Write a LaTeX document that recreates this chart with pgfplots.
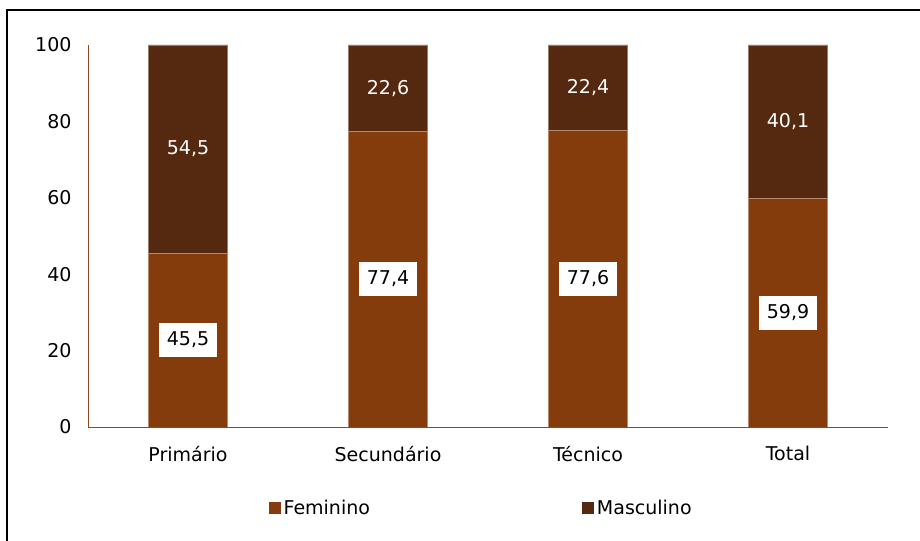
\documentclass[border=0pt]{standalone}
\usepackage{pgfplots}
\pgfplotsset{compat=1.18}
\usepackage{pgfplotstable}
\usepackage{fontspec}
\setmainfont{DejaVu Sans}

\definecolor{fem}{HTML}{843C0C}
\definecolor{masc}{HTML}{552810}
\definecolor{axisbrown}{HTML}{8B4A20}

\pgfplotstableread{
x  fem   masc
0  45.5  54.5
1  77.4  22.6
2  77.6  22.4
3  59.9  40.1
}\dados

\begin{document}
\begin{tikzpicture}[x=1bp,y=1bp,font=\fontsize{19bp}{22bp}\selectfont]
\useasboundingbox (0,0) rectangle (920,541);
% moldura (so a esquerda e o topo ficam dentro da imagem)
\draw[line width=2.5bp] (7,-20) -- (7,531) -- (940,531);
\begin{axis}[
    at={(88bp,114bp)}, anchor=south west,
    scale only axis,
    width=800bp, height=382bp,
    ybar stacked,
    bar width=79bp,
    xmin=-0.5, xmax=3.5,
    ymin=0, ymax=100,
    xtick=data,
    xticklabels={Primário,Secundário,Técnico,Total},
    ytick={0,20,40,60,80,100},
    major tick length=0pt,
    axis x line*=bottom,
    axis y line*=left,
    axis line style={axisbrown, line width=0.9bp, -},
    yticklabel style={xshift=-13bp},
    xticklabel style={yshift=-16bp},
    /pgf/number format/assume math mode=true,
    nodes near coords={\pgfmathprintnumber[fixed, fixed zerofill, precision=1, use comma]{\pgfplotspointmeta}},
    legend columns=2,
    legend style={at={(0.492,-0.212)}, anchor=center, draw=none, fill=none,
        /tikz/every even column/.append style={column sep=209bp},
        nodes={inner xsep=3bp}},
    legend image code/.code={\fill[#1,draw=none] (0bp,-6bp) rectangle (12bp,6bp);},
]
\addplot[fill=fem, draw=fem!60!white, line width=0.6bp,
    point meta=explicit,
    every node near coord/.append style={anchor=center, fill=white, text=black,
        inner xsep=8bp, minimum height=34bp}]
    table[x=x, y=fem, meta=fem] {\dados};
\addlegendentry{Feminino}
\addplot[fill=masc, draw=masc!60!white, line width=0.6bp,
    point meta=explicit,
    every node near coord/.append style={anchor=center, text=white}]
    table[x=x, y=masc, meta=masc] {\dados};
\addlegendentry{Masculino}
\end{axis}
\end{tikzpicture}
\end{document}
